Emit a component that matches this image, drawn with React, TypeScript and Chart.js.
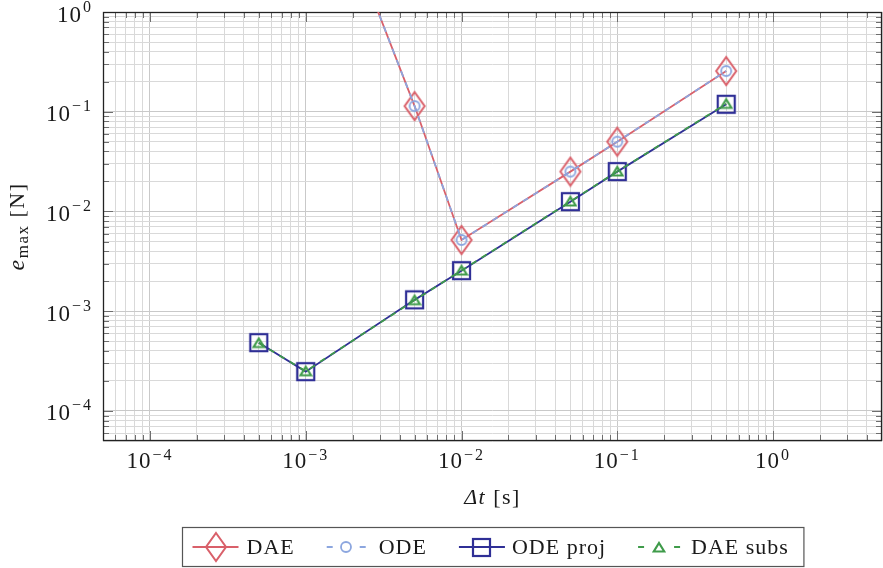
import React, { useEffect, useRef } from 'react';
import { Chart, registerables } from 'chart.js';
Chart.register(...registerables);

const SERIF = "'Liberation Serif', 'Times New Roman', serif";

// ---------------- data ----------------
const dtDae = [0.001, 0.005, 0.01, 0.05, 0.1, 0.5];
const errDae = [75, 0.114, 0.00518, 0.0251, 0.0501, 0.256];
const dtOde = [0.001, 0.005, 0.01, 0.05, 0.1, 0.5];
const errOde = [75, 0.114, 0.00518, 0.0251, 0.0501, 0.256];
const dtOdeProj = [0.0005, 0.001, 0.005, 0.01, 0.05, 0.1, 0.5];
const errOdeProj = [4.84e-4, 2.48e-4, 1.3e-3, 2.55e-3, 0.01254, 0.0251, 0.1188];
const dtDaeSubs = [0.0005, 0.001, 0.005, 0.01, 0.05, 0.1, 0.5];
const errDaeSubs = [4.8e-4, 2.5e-4, 1.29e-3, 2.56e-3, 0.0126, 0.0252, 0.12];

const seriesNames = ['DAE', 'ODE', 'ODE proj', 'DAE subs'];
const xTickExponents = [-4, -3, -2, -1, 0];
const yTickExponents = [-4, -3, -2, -1, 0];
const xRange = [5e-5, 5];
const yRange = [5e-5, 1];

const RED = '#d9606a';
const LBLUE = '#8ca6df';
const NAVY = '#2f2f96';
const GREEN = '#3f9b4a';
const TEXT = '#1a1a1a';

function makeCanvas(w: number, h: number, draw: (g: CanvasRenderingContext2D) => void) {
  const c = document.createElement('canvas');
  c.width = w;
  c.height = h;
  const g = c.getContext('2d')!;
  draw(g);
  return c;
}

function isDecade(v: number) {
  const l = Math.log10(v);
  return Math.abs(l - Math.round(l)) < 1e-6;
}

function isIntMantissa(v: number) {
  const e = Math.floor(Math.log10(v) + 1e-9);
  const m = v / Math.pow(10, e);
  return Math.abs(m - Math.round(m)) < 1e-6;
}

function setSpacing(ctx: any, px: number) {
  if ('letterSpacing' in ctx) ctx.letterSpacing = px + 'px';
}

function drawPow(ctx: CanvasRenderingContext2D, exp: number, x: number, y: number, align: 'center' | 'right', raise: number) {
  const base = '10';
  const sup = exp < 0 ? '\u2212' + Math.abs(exp) : String(exp);
  setSpacing(ctx, 1);
  ctx.font = `23px ${SERIF}`;
  const wb = ctx.measureText(base).width;
  setSpacing(ctx, 2);
  ctx.font = `16px ${SERIF}`;
  const ws = ctx.measureText(sup).width;
  const total = wb + 1 + ws;
  const x0 = align === 'center' ? x - total / 2 : x - total;
  ctx.textAlign = 'left';
  ctx.textBaseline = 'alphabetic';
  ctx.fillStyle = TEXT;
  setSpacing(ctx, 1);
  ctx.font = `23px ${SERIF}`;
  ctx.fillText(base, x0, y);
  setSpacing(ctx, 2);
  ctx.font = `16px ${SERIF}`;
  ctx.fillText(sup, x0 + wb + 1, y - raise);
  setSpacing(ctx, 0);
}

export default function App() {
  const ref = useRef<HTMLCanvasElement>(null);

  useEffect(() => {
    const canvas = ref.current!;
    const diamond = makeCanvas(24, 32, (g) => {
      g.strokeStyle = RED;
      g.lineWidth = 2;
      g.beginPath();
      g.moveTo(12, 2);
      g.lineTo(22, 16);
      g.lineTo(12, 30);
      g.lineTo(2, 16);
      g.closePath();
      g.stroke();
    });
    const circle = makeCanvas(14, 14, (g) => {
      g.strokeStyle = LBLUE;
      g.lineWidth = 1.8;
      g.beginPath();
      g.arc(7, 7, 5, 0, Math.PI * 2);
      g.stroke();
    });
    const square = makeCanvas(21, 21, (g) => {
      g.strokeStyle = NAVY;
      g.lineWidth = 2.2;
      g.strokeRect(2, 2, 17, 17);
    });
    const triangle = makeCanvas(14, 13, (g) => {
      g.strokeStyle = GREEN;
      g.lineWidth = 2.2;
      g.beginPath();
      g.moveTo(7, 2);
      g.lineTo(12.3, 10.5);
      g.lineTo(1.7, 10.5);
      g.closePath();
      g.stroke();
    });

    const legendItems = [
      { label: seriesNames[0], color: RED, dashed: false, img: diamond, w: 46, gap: 8 },
      { label: seriesNames[1], color: LBLUE, dashed: true, img: circle, w: 39, gap: 13 },
      { label: seriesNames[2], color: NAVY, dashed: false, img: square, w: 46, gap: 7 },
      { label: seriesNames[3], color: GREEN, dashed: true, img: triangle, w: 42, gap: 11 },
    ];

    const decor = {
      id: 'decor',
      beforeDatasetsDraw(chart: any) {
        const { ctx, chartArea: a, scales } = chart;
        ctx.save();
        ctx.strokeStyle = '#6e6e6e';
        ctx.lineWidth = 1;
        for (const t of scales.x.ticks) {
          const px = Math.round(scales.x.getPixelForValue(t.value)) + 0.5;
          if (px <= a.left + 1 || px >= a.right - 1) continue;
          const len = isDecade(t.value) ? 10 : 6;
          ctx.beginPath();
          ctx.moveTo(px, a.bottom);
          ctx.lineTo(px, a.bottom - len);
          ctx.moveTo(px, a.top);
          ctx.lineTo(px, a.top + len);
          ctx.stroke();
        }
        for (const t of scales.y.ticks) {
          const py = Math.round(scales.y.getPixelForValue(t.value)) + 0.5;
          if (py <= a.top + 1 || py >= a.bottom - 1) continue;
          const len = isDecade(t.value) ? 10 : 6;
          ctx.beginPath();
          ctx.moveTo(a.left, py);
          ctx.lineTo(a.left + len, py);
          ctx.moveTo(a.right, py);
          ctx.lineTo(a.right - len, py);
          ctx.stroke();
        }
        ctx.strokeStyle = '#222';
        ctx.lineWidth = 1.3;
        ctx.strokeRect(a.left + 0.5, a.top + 0.5, a.right - a.left - 1, a.bottom - a.top - 1);
        ctx.restore();
      },
      afterDraw(chart: any) {
        const { ctx, chartArea: a, scales } = chart;
        ctx.save();
        // tick labels
        for (const e of xTickExponents) {
          drawPow(ctx, e, scales.x.getPixelForValue(Math.pow(10, e)), a.bottom + 27, 'center', 8);
        }
        for (const e of yTickExponents) {
          drawPow(ctx, e, a.left - 10, scales.y.getPixelForValue(Math.pow(10, e)) + 9.5, 'right', 10);
        }
        // x title: Δt [s]
        ctx.fillStyle = TEXT;
        ctx.textBaseline = 'alphabetic';
        ctx.textAlign = 'left';
        const cx = (a.left + a.right) / 2;
        setSpacing(ctx, 1.5);
        ctx.font = `italic 22px ${SERIF}`;
        const w1 = ctx.measureText('\u0394t').width;
        ctx.font = `22px ${SERIF}`;
        const w2 = ctx.measureText(' [s]').width;
        const x0 = cx - (w1 + w2) / 2;
        ctx.font = `italic 22px ${SERIF}`;
        ctx.fillText('\u0394t', x0, a.bottom + 63);
        ctx.font = `22px ${SERIF}`;
        ctx.fillText(' [s]', x0 + w1, a.bottom + 63);
        // y title: e_max [N]
        ctx.save();
        ctx.translate(24, (a.top + a.bottom) / 2);
        ctx.rotate(-Math.PI / 2);
        setSpacing(ctx, 1.5);
        ctx.font = `italic 24px ${SERIF}`;
        const we = ctx.measureText('e').width;
        ctx.font = `17px ${SERIF}`;
        const wm = ctx.measureText('max').width;
        ctx.font = `22px ${SERIF}`;
        const wn = ctx.measureText(' [N]').width;
        const tx = -(we + wm + wn) / 2;
        ctx.font = `italic 24px ${SERIF}`;
        ctx.fillText('e', tx, 0);
        ctx.font = `17px ${SERIF}`;
        ctx.fillText('max', tx + we, 4);
        ctx.font = `22px ${SERIF}`;
        ctx.fillText(' [N]', tx + we + wm, 0);
        ctx.restore();

        // legend
        const itemGap = 32;
        const padL = 10;
        const padR = 15;
        setSpacing(ctx, 1);
        ctx.font = `22px ${SERIF}`;
        const widths = legendItems.map((it) => ctx.measureText(it.label).width);
        let total = padL + padR;
        legendItems.forEach((it, i) => {
          total += it.w + it.gap + widths[i];
          if (i > 0) total += itemGap;
        });
        const boxTop = 527;
        const boxH = 39;
        const boxLeft = Math.round(cx - total / 2) + 0.5;
        ctx.strokeStyle = '#555';
        ctx.lineWidth = 1.2;
        ctx.strokeRect(boxLeft, boxTop + 0.5, total, boxH);
        const cy = boxTop + boxH / 2 + 0.5;
        let x = boxLeft + padL;
        legendItems.forEach((it, i) => {
          ctx.strokeStyle = it.color;
          ctx.lineWidth = 1.8;
          ctx.beginPath();
          if (it.dashed) {
            ctx.moveTo(x, cy);
            ctx.lineTo(x + 6, cy);
            ctx.moveTo(x + it.w - 6, cy);
            ctx.lineTo(x + it.w, cy);
          } else {
            ctx.moveTo(x, cy);
            ctx.lineTo(x + it.w, cy);
          }
          ctx.stroke();
          ctx.drawImage(it.img, Math.round(x + it.w / 2 - it.img.width / 2), Math.round(cy - it.img.height / 2));
          x += it.w + it.gap;
          ctx.fillStyle = TEXT;
          ctx.font = `22px ${SERIF}`;
          ctx.textBaseline = 'alphabetic';
          ctx.fillText(it.label, x, cy + 7);
          x += widths[i] + itemGap;
        });
        setSpacing(ctx, 0);
        ctx.restore();
      },
    };

    const gridColor = (c: any) => (c.tick && isDecade(c.tick.value) ? '#c9c9c9' : '#d9d9d9');
    const filterTicks = (s: any) => {
      s.ticks = s.ticks.filter((t: any) => isIntMantissa(t.value));
    };

    const chart = new Chart(canvas, {
      type: 'line',
      data: {
        datasets: [
          {
            label: seriesNames[0],
            data: dtDae.map((x, i) => ({ x, y: errDae[i] })),
            borderColor: RED,
            borderWidth: 1.8,
            pointStyle: diamond as any,
            pointRadius: 12,
            pointHoverRadius: 12,
            fill: false,
            tension: 0,
            order: 4,
          },
          {
            label: seriesNames[1],
            data: dtOde.map((x, i) => ({ x, y: errOde[i] })),
            borderColor: LBLUE,
            borderWidth: 1.8,
            borderDash: [6, 6],
            pointStyle: circle as any,
            pointRadius: 6,
            pointHoverRadius: 6,
            fill: false,
            tension: 0,
            order: 3,
          },
          {
            label: seriesNames[2],
            data: dtOdeProj.map((x, i) => ({ x, y: errOdeProj[i] })),
            borderColor: NAVY,
            borderWidth: 1.8,
            pointStyle: square as any,
            pointRadius: 10,
            pointHoverRadius: 10,
            fill: false,
            tension: 0,
            order: 2,
          },
          {
            label: seriesNames[3],
            data: dtDaeSubs.map((x, i) => ({ x, y: errDaeSubs[i] })),
            borderColor: GREEN,
            borderWidth: 1.8,
            borderDash: [6, 6],
            pointStyle: triangle as any,
            pointRadius: 6,
            pointHoverRadius: 6,
            fill: false,
            tension: 0,
            order: 1,
          },
        ],
      },
      options: {
        animation: false,
        responsive: false,
        events: [],
        layout: { autoPadding: false, padding: { top: 12, right: 1, left: 0, bottom: 0 } },
        plugins: { legend: { display: false }, tooltip: { enabled: false } },
        scales: {
          x: {
            type: 'logarithmic',
            position: 'bottom',
            min: xRange[0],
            max: xRange[1],
            afterBuildTicks: filterTicks,
            afterFit: (s: any) => {
              s.height = 127;
            },
            grid: { color: gridColor, lineWidth: 1, drawTicks: false },
            border: { display: false },
            ticks: { display: false, autoSkip: false },
          },
          y: {
            type: 'logarithmic',
            position: 'left',
            min: yRange[0],
            max: yRange[1],
            afterBuildTicks: filterTicks,
            afterFit: (s: any) => {
              s.width = 103;
            },
            grid: { color: gridColor, lineWidth: 1, drawTicks: false },
            border: { display: false },
            ticks: { display: false, autoSkip: false },
          },
        },
      } as any,
      plugins: [decor],
    });
    return () => chart.destroy();
  }, []);

  return (
    <div style={{ position: 'absolute', left: 0, top: 0, width: 883, height: 568, background: '#fff' }}>
      <canvas ref={ref} width={883} height={568} style={{ display: 'block', width: 883, height: 568 }} />
    </div>
  );
}
